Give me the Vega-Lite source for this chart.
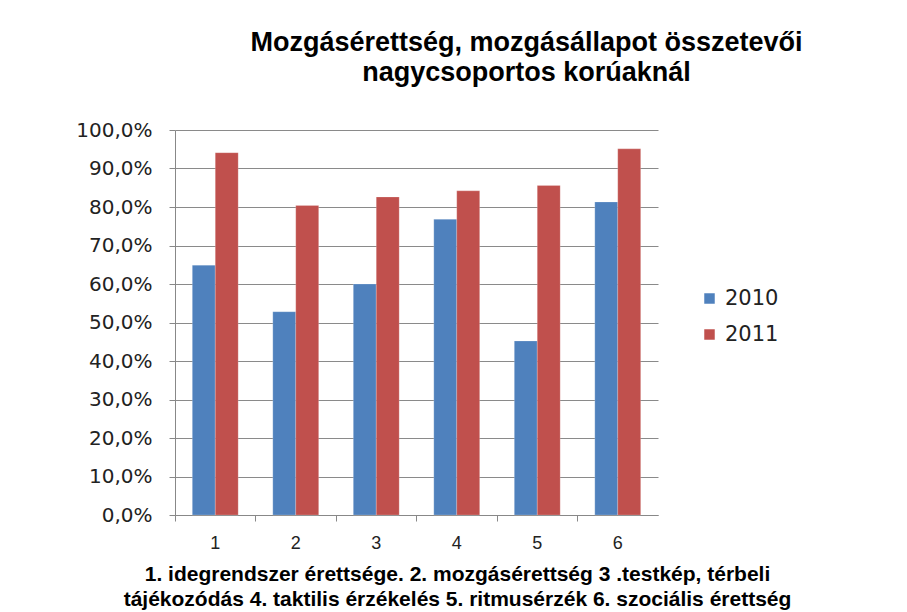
{
  "$schema": "https://vega.github.io/schema/vega-lite/v6.json",
  "width": 483,
  "height": 385,
  "autosize": "none",
  "padding": {"left": 175, "top": 130, "right": 249, "bottom": 97},
  "background": "white",
  "title": {
    "text": ["Mozgásérettség, mozgásállapot összetevői", "nagycsoportos korúaknál"],
    "font": "Liberation Sans",
    "fontSize": 27,
    "fontWeight": "bold",
    "color": "#000000",
    "anchor": "middle",
    "dx": 110,
    "offset": 33,
    "lineHeight": 30
  },
  "data": {
    "values": [
      {"kat": "1", "ev": "2010", "v": 0.649},
      {"kat": "1", "ev": "2011", "v": 0.941},
      {"kat": "2", "ev": "2010", "v": 0.528},
      {"kat": "2", "ev": "2011", "v": 0.804},
      {"kat": "3", "ev": "2010", "v": 0.600},
      {"kat": "3", "ev": "2011", "v": 0.826},
      {"kat": "4", "ev": "2010", "v": 0.768},
      {"kat": "4", "ev": "2011", "v": 0.842},
      {"kat": "5", "ev": "2010", "v": 0.452},
      {"kat": "5", "ev": "2011", "v": 0.856},
      {"kat": "6", "ev": "2010", "v": 0.813},
      {"kat": "6", "ev": "2011", "v": 0.951}
    ]
  },
  "mark": {"type": "bar", "stroke": "#ffffff", "strokeOpacity": 0.4, "strokeWidth": 0.5},
  "encoding": {
    "x": {
      "field": "kat",
      "type": "ordinal",
      "scale": {"paddingInner": 0.43, "paddingOuter": 0.215},
      "axis": {
        "labelAngle": 0,
        "bandPosition": -0.375,
        "labelFont": "Liberation Sans",
        "labelFontSize": 18,
        "labelColor": "#222222",
        "labelPadding": 13,
        "tickSize": 6,
        "tickColor": "#888888",
        "domainColor": "#888888",
        "title": ["1. idegrendszer érettsége.  2. mozgásérettség   3 .testkép, térbeli", "tájékozódás 4. taktilis érzékelés 5. ritmusérzék 6. szociális  érettség"],
        "titleFont": "Liberation Sans",
        "titleFontSize": 21,
        "titleFontWeight": "bold",
        "titleColor": "#000000",
        "titleX": 282,
        "titleY": 48,
        "titleBaseline": "top",
        "titleAlign": "center",
        "titleLineHeight": 25
      }
    },
    "xOffset": {"field": "ev", "type": "nominal", "scale": {"paddingInner": 0, "paddingOuter": 0}},
    "y": {
      "field": "v",
      "type": "quantitative",
      "scale": {"domain": [0, 1]},
      "axis": {
        "values": [0, 0.1, 0.2, 0.3, 0.4, 0.5, 0.6, 0.7, 0.8, 0.9, 1.0],
        "labelExpr": "replace(format(datum.value, '.1%'), '.', ',')",
        "labelFont": "DejaVu Sans",
        "labelFontSize": 20,
        "labelColor": "#222222",
        "labelPadding": 17,
        "tickSize": 6,
        "tickColor": "#888888",
        "domainColor": "#888888",
        "gridColor": "#8a8a8a",
        "gridWidth": 1,
        "title": null
      }
    },
    "color": {
      "field": "ev",
      "type": "nominal",
      "scale": {"domain": ["2010", "2011"], "range": ["#4F81BD", "#C0504D"]},
      "legend": {
        "orient": "none",
        "legendX": 524,
        "legendY": 158,
        "title": null,
        "symbolType": "square",
        "symbolSize": 110,
        "symbolStrokeWidth": 0,
        "labelFont": "DejaVu Sans",
        "labelFontSize": 21,
        "labelColor": "#222222",
        "labelOffset": 5,
        "rowPadding": 14
      }
    }
  },
  "config": {"view": {"stroke": null}}
}
